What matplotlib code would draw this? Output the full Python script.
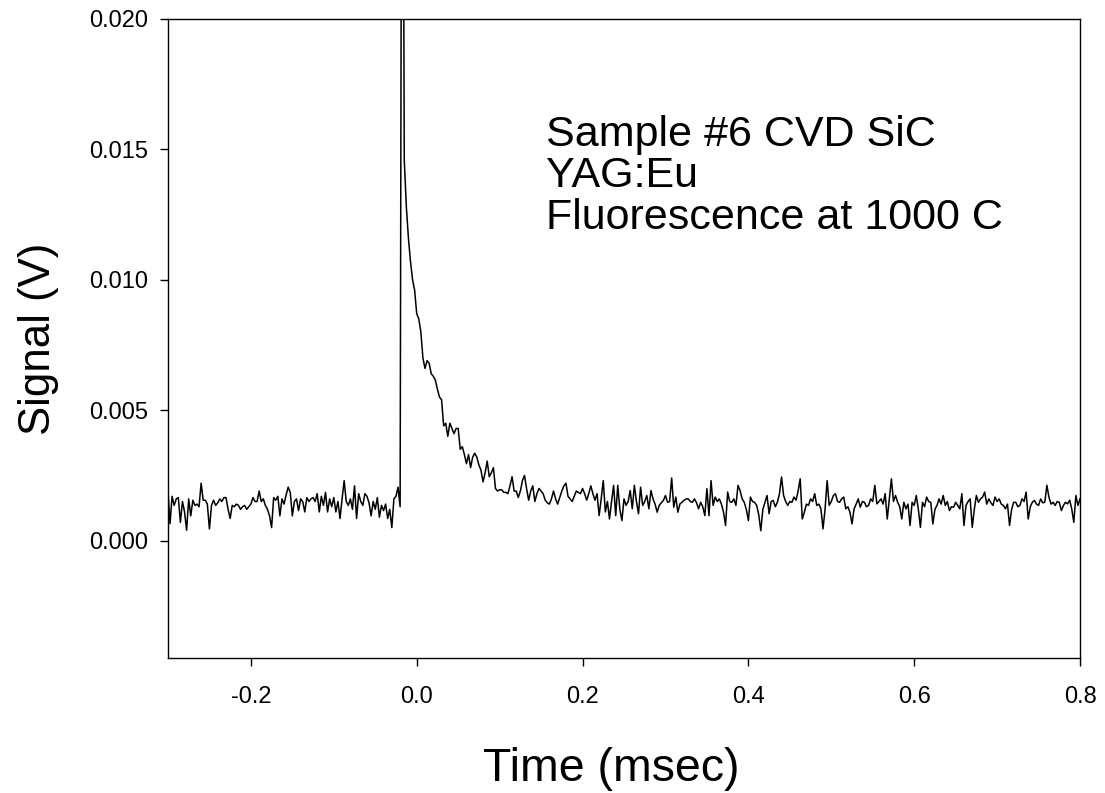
#!/usr/bin/env python3
"""
Fluorescence decay trace of YAG:Eu on sample #6 (CVD SiC) at 1000 C
"""
import numpy as np
import matplotlib
matplotlib.use("Agg")
import matplotlib.pyplot as plt

# sampling of the scope trace (msec)
t_start = -0.300
t_step = 0.0025

# signal in mV
pre_trigger = [
    1.9, 0.65, 1.7, 1.35, 1.6, 1.65, 0.7, 1.5, 1.1, 0.4,
    1.6, 0.95, 1.55, 1.35, 1.4, 1.3, 2.2, 1.55, 1.55, 1.4,
    0.45, 1.35, 1.55, 1.35, 1.45, 1.6, 1.5, 1.65, 1.65, 1.2,
    0.85, 1.35, 1.3, 1.4, 1.35, 1.2, 1.3, 1.35, 1.2, 1.3,
    1.4, 1.65, 1.5, 1.5, 1.9, 1.5, 1.6, 1.35, 1.2, 0.95,
    0.5, 1.65, 1.55, 1.7, 0.95, 1.6, 1.4, 1.75, 2.05, 1.85,
    0.95, 1.5, 1.6, 1.15, 1.6, 1.5, 1.1, 1.65, 1.5, 1.6,
    1.65, 1.5, 1.8, 1.1, 1.7, 1.35, 1.85, 1.1, 1.6, 1.3,
    1.65, 1.1, 1.5, 0.85, 1.6, 2.3, 1.5, 1.35, 1.6, 1.2,
    2.1, 0.85, 1.8, 1.5, 1.35, 1.8, 1.7, 1.45, 0.95, 1.5,
    1.2, 1.65, 0.9, 1.35, 1.15, 1.4, 0.85, 1.2, 0.5, 1.6,
    1.7, 2.05, 1.3,
]
decay = [
    40.0, 14.6, 12.8, 11.6, 10.7, 10.0, 9.6, 8.7, 8.5, 8.0,
    7.0, 6.6, 6.9, 6.8, 6.4, 6.3, 6.15, 5.8, 5.5, 5.4,
    4.4, 4.5, 4.0, 4.5, 4.3, 4.1, 4.3, 4.3, 3.5, 3.6,
    3.3, 2.95, 3.3, 2.8, 3.2, 3.35, 3.2, 2.9, 2.7, 2.25,
    2.6, 3.05, 2.45, 2.6, 2.8, 2.0, 1.9, 1.95, 1.95, 1.85,
    1.85, 1.8, 2.1, 2.45, 1.9, 1.9, 1.65, 1.9, 2.3, 2.5,
    2.0, 1.55, 1.9, 2.1, 1.5, 1.8, 2.0, 1.9, 1.8, 1.55,
    1.45, 1.4, 1.6, 1.9, 1.6, 1.4, 1.65, 1.9, 2.1, 2.2,
    1.7, 1.6, 1.5, 1.7, 1.9, 1.85, 1.8, 2.0, 1.8, 1.55,
    1.8, 2.1, 1.8, 1.55,
]
tail = [
    1.8, 0.96, 1.6, 2.3, 1.1, 1.5, 0.83, 1.5, 2.12, 0.96,
    2.12, 1.2, 0.77, 1.6, 1.35, 1.5, 1.92, 1.22, 2.12, 1.5,
    1.03, 2.05, 1.35, 1.5, 1.73, 1.22, 1.92, 1.6, 1.4, 1.09,
    1.35, 1.45, 1.54, 1.73, 1.47, 1.5, 2.4, 1.28, 1.67, 1.09,
    1.41, 1.47, 1.55, 1.6, 1.6, 1.5, 1.47, 1.6, 1.45, 1.22,
    1.47, 1.3, 0.96, 1.99, 0.96, 2.3, 1.35, 1.67, 1.5, 1.6,
    1.4, 1.1, 0.58, 1.86, 1.5, 1.47, 1.6, 1.35, 2.12, 1.92,
    1.6, 1.47, 1.2, 0.77, 1.67, 1.5, 1.47, 1.35, 1.0, 0.38,
    1.2, 1.47, 1.73, 1.03, 1.5, 1.54, 1.3, 1.47, 1.8, 2.44,
    1.73, 1.5, 1.35, 1.5, 1.47, 1.67, 1.55, 1.9, 2.37, 0.83,
    1.09, 1.4, 1.35, 1.6, 1.5, 1.8, 1.35, 1.4, 1.22, 0.45,
    1.2, 2.3, 1.35, 1.5, 1.73, 1.8, 1.5, 1.47, 1.6, 1.67,
    1.22, 1.3, 1.09, 0.64, 1.22, 1.4, 1.6, 1.28, 1.5, 1.47,
    1.3, 1.35, 1.6, 1.5, 2.12, 1.41, 1.5, 1.6, 1.4, 1.8,
    0.83, 1.6, 2.37, 1.5, 1.73, 1.47, 1.3, 0.83, 1.47, 1.22,
    1.4, 0.58, 1.47, 1.35, 1.73, 1.2, 0.51, 1.47, 1.3, 1.67,
    1.5, 1.47, 0.64, 1.2, 1.35, 1.6, 1.4, 1.73, 1.35, 1.5,
    1.15, 1.3, 1.28, 1.47, 1.35, 1.22, 1.8, 0.58, 1.35, 1.5,
    1.6, 0.51, 1.2, 1.73, 1.47, 1.6, 1.67, 1.86, 1.4, 1.6,
    1.45, 1.35, 1.67, 1.5, 1.6, 1.4, 1.35, 1.22, 1.4, 0.58,
    1.2, 1.47, 1.47, 1.3, 1.35, 1.6, 1.5, 1.86, 0.83, 1.3,
    1.47, 1.54, 1.4, 1.35, 1.6, 1.45, 1.47, 2.12, 1.67, 1.4,
    1.47, 1.35, 1.5, 1.47, 1.15, 1.35, 1.47, 1.41, 1.55, 1.22,
    0.7, 1.73, 1.35, 1.6,
]

x_ticks = [-0.2, 0.0, 0.2, 0.4, 0.6, 0.8]
y_ticks = [0.000, 0.005, 0.010, 0.015, 0.020]
note = "Sample #6 CVD SiC\nYAG:Eu\nFluorescence at 1000 C"

signal = np.array(pre_trigger + decay + tail) / 1000.0  # mV -> V
time = t_start + t_step * np.arange(len(signal))

plt.rcParams['font.family'] = ['Liberation Sans', 'DejaVu Sans']

fig = plt.figure(figsize=(11.05, 7.93), dpi=100)
ax = fig.add_axes([0.152, 0.1702, 0.8254, 0.806])

ax.plot(time, signal, color='black', linewidth=1.1)

ax.set_xlim(-0.3, 0.8)
ax.set_ylim(-0.0045, 0.020)
ax.set_xticks(x_ticks)
ax.set_xticklabels(["{:.1f}".format(v) for v in x_ticks])
ax.set_yticks(y_ticks)
ax.set_yticklabels(["{:.3f}".format(v) for v in y_ticks])
ax.tick_params(direction='out', length=6, width=1, labelsize=17)
ax.tick_params(axis='x', pad=14)
ax.tick_params(axis='y', pad=8)

for side in ax.spines.values():
    side.set_linewidth(1.0)

ax.set_xlabel("Time (msec)", fontsize=33.5, labelpad=28)
ax.set_ylabel("Signal (V)", fontsize=31.5, labelpad=22)
# the x title sits a little left of the axis centre in the original
ax.xaxis.label.set_x(0.486)

ax.text(0.414, 0.85, note, transform=ax.transAxes, fontsize=31,
        va='top', ha='left', linespacing=1.05)

fig.savefig("out.png", dpi=100)
